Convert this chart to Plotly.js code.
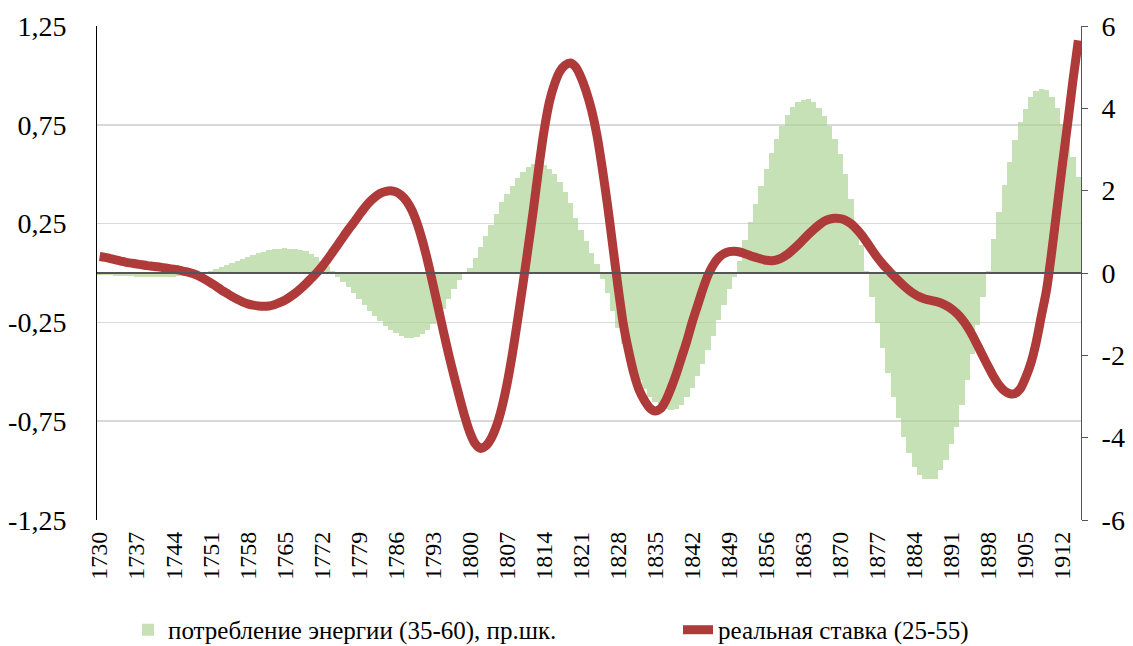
<!DOCTYPE html>
<html>
<head>
<meta charset="utf-8">
<script src="https://cdn.plot.ly/plotly-3.0.1.min.js"></script>
<style>
  html, body { margin: 0; padding: 0; background: #ffffff; }
  #fontwarm { position: absolute; left: 0; top: 0; font-family: 'Liberation Serif'; font-size: 25px; color: #fff; opacity: 0; }
</style>
</head>
<body>
<div id="fontwarm">1,25 -0,75 1730 потребление энергии (35-60), пр.шк. реальная ставка (25-55)</div>
<div id="chart" style="width:1133px;height:646px"></div>
<script>
// Years (categories), 1730..1915
const years = [
  1730,1731,1732,1733,1734,1735,1736,1737,1738,1739,
  1740,1741,1742,1743,1744,1745,1746,1747,1748,1749,
  1750,1751,1752,1753,1754,1755,1756,1757,1758,1759,
  1760,1761,1762,1763,1764,1765,1766,1767,1768,1769,
  1770,1771,1772,1773,1774,1775,1776,1777,1778,1779,
  1780,1781,1782,1783,1784,1785,1786,1787,1788,1789,
  1790,1791,1792,1793,1794,1795,1796,1797,1798,1799,
  1800,1801,1802,1803,1804,1805,1806,1807,1808,1809,
  1810,1811,1812,1813,1814,1815,1816,1817,1818,1819,
  1820,1821,1822,1823,1824,1825,1826,1827,1828,1829,
  1830,1831,1832,1833,1834,1835,1836,1837,1838,1839,
  1840,1841,1842,1843,1844,1845,1846,1847,1848,1849,
  1850,1851,1852,1853,1854,1855,1856,1857,1858,1859,
  1860,1861,1862,1863,1864,1865,1866,1867,1868,1869,
  1870,1871,1872,1873,1874,1875,1876,1877,1878,1879,
  1880,1881,1882,1883,1884,1885,1886,1887,1888,1889,
  1890,1891,1892,1893,1894,1895,1896,1897,1898,1899,
  1900,1901,1902,1903,1904,1905,1906,1907,1908,1909,
  1910,1911,1912,1913,1914,1915
];

// потребление энергии (35-60), пр.шк. — left axis
const energy = [
  -0.010,-0.011,-0.012,-0.013,-0.015,-0.016,-0.017,-0.018,-0.019,-0.020,
  -0.020,-0.020,-0.020,-0.019,-0.018,-0.016,-0.013,-0.010,-0.007,-0.003,
   0.005, 0.012, 0.020, 0.030, 0.040, 0.050, 0.060, 0.070, 0.080, 0.090,
   0.100, 0.108, 0.115, 0.120, 0.124, 0.125, 0.124, 0.122, 0.118, 0.110,
   0.098, 0.082, 0.060, 0.035, 0.008,-0.020,-0.045,-0.070,-0.100,-0.130,
  -0.160,-0.190,-0.220,-0.245,-0.270,-0.290,-0.305,-0.318,-0.327,-0.330,
  -0.325,-0.310,-0.290,-0.260,-0.220,-0.180,-0.130,-0.080,-0.035,-0.005,
   0.025, 0.075, 0.130, 0.185, 0.245, 0.300, 0.360, 0.400, 0.440, 0.480,
   0.510, 0.535, 0.550, 0.555, 0.545, 0.525, 0.500, 0.460, 0.410, 0.355,
   0.280, 0.220, 0.160, 0.100, 0.045,-0.030,-0.100,-0.190,-0.280,-0.360,
  -0.430,-0.490,-0.540,-0.585,-0.625,-0.655,-0.680,-0.690,-0.695,-0.690,
  -0.670,-0.630,-0.580,-0.520,-0.460,-0.390,-0.320,-0.240,-0.160,-0.080,
  -0.020, 0.060, 0.165, 0.260, 0.350, 0.440, 0.525, 0.605, 0.680, 0.745,
   0.800, 0.840, 0.865, 0.878, 0.880, 0.865, 0.835, 0.795, 0.745, 0.680,
   0.600, 0.500, 0.376, 0.220, 0.140, 0.010,-0.120,-0.255,-0.380,-0.508,
  -0.627,-0.735,-0.830,-0.913,-0.980,-1.024,-1.045,-1.045,-1.040,-0.998,
  -0.948,-0.863,-0.780,-0.670,-0.543,-0.408,-0.265,-0.120, 0.010, 0.174,
   0.309, 0.444, 0.562, 0.672, 0.764, 0.832, 0.890, 0.920, 0.930, 0.925,
   0.890, 0.835, 0.756, 0.670, 0.587, 0.487
];

// реальная ставка (25-55) — right axis
const realRate = [
   0.40, 0.38, 0.35, 0.32, 0.29, 0.26, 0.24, 0.22, 0.20, 0.18,
   0.165,0.15, 0.13, 0.11, 0.09, 0.07, 0.04, 0.01,-0.03,-0.09,
  -0.16,-0.24,-0.32,-0.41,-0.49,-0.57,-0.64,-0.70,-0.75,-0.78,
  -0.80,-0.81,-0.80,-0.77,-0.72,-0.66,-0.58,-0.49,-0.38,-0.26,
  -0.13, 0.00, 0.15, 0.32, 0.50, 0.68, 0.87, 1.05, 1.22, 1.40,
   1.57, 1.72, 1.84, 1.93, 1.98, 2.00, 1.97, 1.89, 1.75, 1.53,
   1.21, 0.79, 0.29,-0.27,-0.85,-1.43,-1.99,-2.51,-3.01,-3.48,
  -3.88,-4.15,-4.26,-4.20,-4.02,-3.72,-3.28,-2.70,-1.98,-1.15,
  -0.28, 0.62, 1.55, 2.55, 3.45, 4.15, 4.60, 4.90, 5.05, 5.10,
   5.00, 4.75, 4.40, 3.95, 3.35, 2.55, 1.65, 0.65,-0.35,-1.25,
  -1.90,-2.45,-2.85,-3.10,-3.28,-3.35,-3.30,-3.10,-2.80,-2.45,
  -2.05,-1.65,-1.20,-0.80,-0.40,-0.05, 0.20, 0.37, 0.47, 0.52,
   0.53, 0.51, 0.47, 0.42, 0.38, 0.34, 0.31, 0.30, 0.32, 0.37,
   0.45, 0.56, 0.68, 0.81, 0.94, 1.06, 1.17, 1.26, 1.31, 1.33,
   1.32, 1.28, 1.20, 1.08, 0.93, 0.75, 0.56, 0.38, 0.22, 0.08,
  -0.06,-0.19,-0.31,-0.42,-0.51,-0.58,-0.63,-0.66,-0.69,-0.73,
  -0.79,-0.87,-0.98,-1.12,-1.30,-1.52,-1.77,-2.03,-2.28,-2.52,
  -2.72,-2.86,-2.93,-2.93,-2.82,-2.55,-2.20,-1.70,-1.05,-0.40,
   0.55, 1.60, 2.65, 3.65, 4.70, 5.65
];

// Axis ticks
const xTickYears = [1730,1737,1744,1751,1758,1765,1772,1779,1786,1793,1800,1807,1814,1821,1828,1835,1842,1849,1856,1863,1870,1877,1884,1891,1898,1905,1912];
const leftTickVals = [-1.25,-0.75,-0.25,0.25,0.75,1.25];
const leftTickText = ['-1,25','-0,75','-0,25','0,25','0,75','1,25'];
const rightTickVals = [-6,-4,-2,0,2,4,6];

const seriesNames = ['потребление энергии (35-60), пр.шк.', 'реальная ставка (25-55)'];

const FONT = 'Liberation Serif';

function buildTraces() {
  return [
    { type: 'bar', name: seriesNames[0], x: years, y: energy, yaxis: 'y', legend: 'legend',
      marker: { color: 'rgba(169,209,142,0.66)', line: { width: 0 } } },
    { type: 'scatter', mode: 'lines', name: seriesNames[1], x: years, y: realRate, yaxis: 'y2', legend: 'legend2',
      line: { color: '#ae3a3a', width: 9, shape: 'spline', smoothing: 0.8 } }
  ];
}

function buildLayout() {
  const legendCommon = {
    orientation: 'h', xref: 'container', yref: 'container', xanchor: 'left', yanchor: 'middle',
    y: 0.0248, font: { family: FONT, size: 25, color: '#000000' }, bgcolor: 'rgba(0,0,0,0)', borderwidth: 0
  };
  return {
    width: 1133, height: 646,
    margin: { l: 97, r: 52, t: 26, b: 126, pad: 0 },
    paper_bgcolor: '#ffffff', plot_bgcolor: '#ffffff',
    font: { family: FONT, color: '#000000', size: 25 },
    bargap: 0, showlegend: true,
    legend: Object.assign({}, legendCommon, { x: 128 / 1133 }),
    legend2: Object.assign({}, legendCommon, { x: 678 / 1133 }),
    xaxis: { range: [1729.5, 1915.5], tickmode: 'array', tickvals: xTickYears, ticktext: xTickYears.map(String),
      tickangle: -90, tickfont: { family: FONT, size: 24, color: '#000000' }, showgrid: false, zeroline: false,
      showline: false, ticks: '', ticklabelstandoff: 6 },
    yaxis: { range: [-1.25, 1.25], tickmode: 'array', tickvals: leftTickVals, ticktext: leftTickText,
      tickfont: { family: FONT, size: 28, color: '#000000' }, showgrid: true, gridcolor: '#d9d9d9', gridwidth: 1.5,
      zeroline: true, zerolinecolor: '#555555', zerolinewidth: 1.2, zerolinelayer: 'above traces',
      showline: true, linecolor: '#000000', linewidth: 1, ticks: '', ticklabelstandoff: 24 },
    yaxis2: { range: [-6, 6], overlaying: 'y', side: 'right', tickmode: 'array', tickvals: rightTickVals,
      ticktext: rightTickVals.map(String), tickfont: { family: FONT, size: 28, color: '#000000' }, showgrid: false,
      zeroline: false, showline: true, linecolor: '#555555', linewidth: 1, ticks: 'outside', ticklen: 6,
      tickcolor: '#555555', ticklabelstandoff: 8 }
  };
}

const cfg = { staticPlot: true };
Plotly.newPlot('chart', buildTraces(), buildLayout(), cfg).then(function () {
  const redraw = function () {
    Plotly.newPlot('chart', buildTraces(), buildLayout(), cfg).then(function () {
      const w = document.getElementById('fontwarm');
      if (w) w.remove();
    });
  };
  if (document.fonts && document.fonts.load) {
    document.fonts.load("25px 'Liberation Serif'", "1,25 потребление").then(function () {
      setTimeout(redraw, 30);
    }, function () { setTimeout(redraw, 30); });
  } else {
    setTimeout(redraw, 30);
  }
});
</script>
</body>
</html>
